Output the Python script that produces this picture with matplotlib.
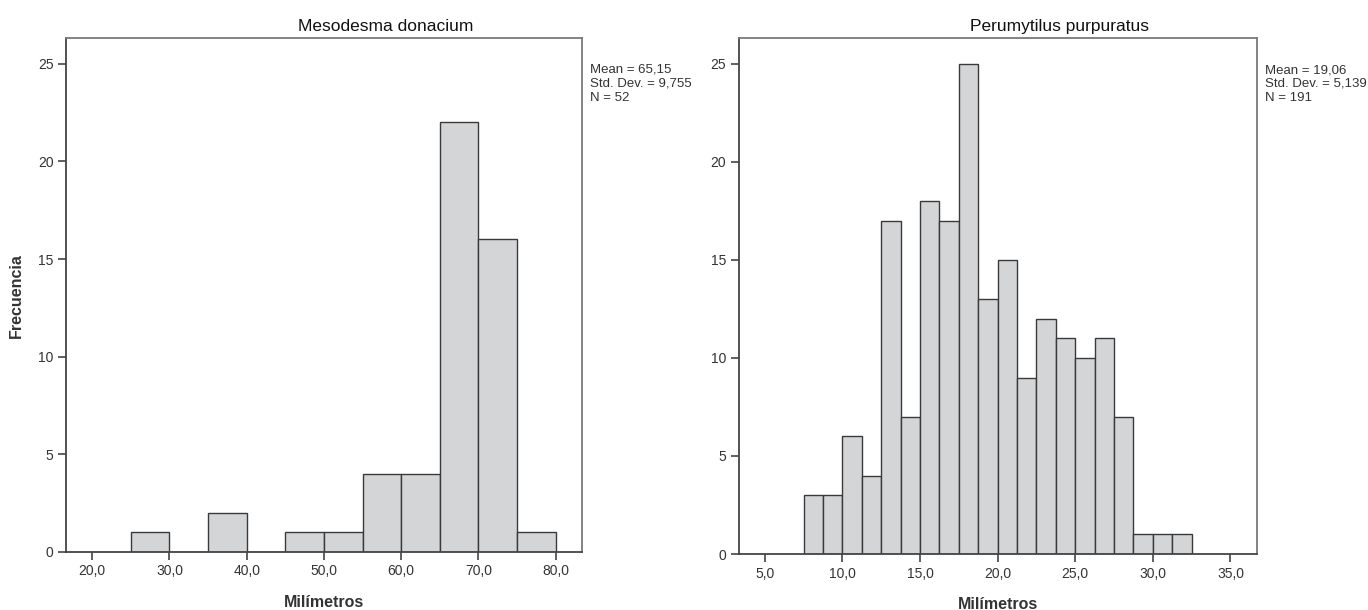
import matplotlib
matplotlib.use("Agg")
import matplotlib.pyplot as plt
import numpy as np

# Mesodesma donacium: bins of 5 mm from 25 to 80
meso_edges = [25, 30, 35, 40, 45, 50, 55, 60, 65, 70, 75, 80]
meso_counts = [1, 0, 2, 0, 1, 1, 4, 4, 22, 16, 1]
meso_ticks = [20, 30, 40, 50, 60, 70, 80]
meso_stats = ["Mean = 65,15", "Std. Dev. = 9,755", "N = 52"]

# Perumytilus purpuratus: bins of 1.25 mm from 7.5 to 32.5
peru_edges = [7.5 + 1.25 * i for i in range(21)]
peru_counts = [3, 3, 6, 4, 17, 7, 18, 17, 25, 13, 15, 9, 12, 11, 10, 11, 7, 1, 1, 1]
peru_ticks = [5, 10, 15, 20, 25, 30, 35]
peru_stats = ["Mean = 19,06", "Std. Dev. = 5,139", "N = 191"]

y_ticks = [0, 5, 10, 15, 20, 25]

plain = ["Liberation Sans", "DejaVu Sans"]

fill = "#d4d5d7"
edge = "#3a3a3a"
frame = "#7a7a7a"

fig = plt.figure(figsize=(13.68, 6.10), dpi=100)
ax1 = fig.add_axes([0.0482, 0.0951, 0.3772, 0.8421])
ax2 = fig.add_axes([0.5400, 0.0918, 0.3785, 0.8454])


def draw(ax, edges, counts, ticks, xlim, title, stats):
    widths = np.diff(edges)
    ax.bar(edges[:-1], counts, width=widths, align="edge",
           color=fill, edgecolor=edge, linewidth=1.0, zorder=2)
    ax.set_xlim(*xlim)
    ax.set_ylim(0, 26.3)
    ax.set_xticks(ticks)
    ax.set_xticklabels([f"{t:.1f}".replace(".", ",") for t in ticks],
                       family=plain, fontsize=10, color="#333333")
    ax.set_yticks(y_ticks)
    ax.set_yticklabels([str(t) for t in y_ticks], family=plain,
                       fontsize=10, color="#333333")
    ax.tick_params(direction="out", length=6, width=1.2, color="#444444", pad=3)
    for s in ax.spines.values():
        s.set_color(frame)
        s.set_linewidth(1.3)
    ax.spines["bottom"].set_color("#444444")
    ax.spines["left"].set_color("#444444")
    ax.set_xlabel("Milímetros", family=plain, fontsize=11.5,
                  fontweight="bold", color="#333333", labelpad=12)
    ax.set_title(title, family=plain, fontsize=12.5, color="#111111",
                 x=0.62, pad=5)
    ax.text(1.016, 0.95, "\n".join(stats), transform=ax.transAxes,
            family=plain, fontsize=9.5, color="#333333", va="top",
            ha="left", linespacing=1.2)


draw(ax1, meso_edges, meso_counts, meso_ticks, (16.6, 83.4),
     "Mesodesma donacium", meso_stats)
draw(ax2, peru_edges, peru_counts, peru_ticks, (3.32, 36.68),
     "Perumytilus purpuratus", peru_stats)
ax1.set_ylabel("Frecuencia", family=plain, fontsize=11.5,
               fontweight="bold", color="#333333", labelpad=10)

fig.savefig("out.png", dpi=100, facecolor="white")
